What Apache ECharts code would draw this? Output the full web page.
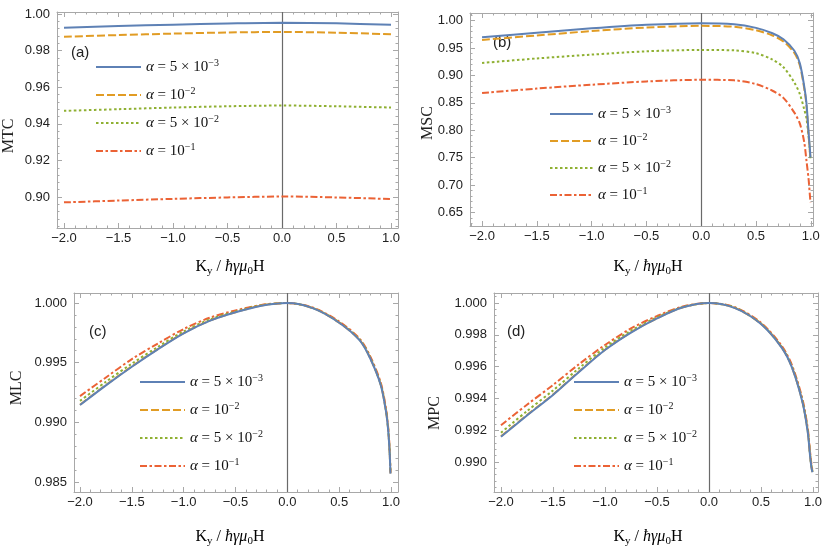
<!DOCTYPE html>
<html><head><meta charset="utf-8">
<script src="https://cdn.jsdelivr.net/npm/echarts@6/dist/echarts.min.js"></script>
<style>html,body{margin:0;padding:0;background:#fff}#c{width:830px;height:547px}</style>
</head><body><div id="c"></div>
<script>
// ---------- data ----------
const seriesNames = ['α = 5 × 10^-3', 'α = 10^-2', 'α = 5 × 10^-2', 'α = 10^-1'];
const xTicks = [-2, -1.5, -1, -0.5, 0, 0.5, 1];

// (a) MTC
const xA = [-2, -1.5, -1, -0.5, 0, 0.5, 1];
const mtcA1 = [0.9925, 0.9934, 0.9942, 0.9948, 0.9952, 0.9949, 0.9941];
const mtcA2 = [0.9876, 0.9885, 0.9893, 0.9899, 0.9902, 0.9898, 0.9889];
const mtcA3 = [0.9471, 0.9480, 0.9489, 0.9496, 0.9500, 0.9496, 0.9489];
const mtcA4 = [0.8971, 0.8981, 0.8990, 0.8998, 0.9003, 0.8998, 0.8989];
const mtcTicks = [0.90, 0.92, 0.94, 0.96, 0.98, 1.00];

// (b) MSC
const xB = [-2, -1.5, -1, -0.5, 0, 0.3, 0.5, 0.65, 0.75, 0.85, 0.9, 0.94, 0.96, 0.98, 0.99, 0.997];
const mscB1 = [0.9697, 0.9780, 0.9860, 0.9925, 0.9955, 0.9935, 0.9868, 0.9770, 0.9660, 0.9450, 0.9220, 0.8800, 0.8500, 0.7950, 0.7700, 0.7500];
const mscB2 = [0.9647, 0.9730, 0.9810, 0.9875, 0.9905, 0.9888, 0.9824, 0.9730, 0.9620, 0.9410, 0.9180, 0.8760, 0.8460, 0.7900, 0.7650, 0.7480];
const mscB3 = [0.9227, 0.9310, 0.9380, 0.9440, 0.9465, 0.9458, 0.9405, 0.9290, 0.9150, 0.8870, 0.8660, 0.8380, 0.8220, 0.7880, 0.7650, 0.7450];
const mscB4 = [0.8680, 0.8760, 0.8830, 0.8890, 0.8920, 0.8910, 0.8842, 0.8720, 0.8590, 0.8320, 0.8120, 0.7780, 0.7450, 0.7100, 0.6850, 0.6680];
const mscTicks = [0.65, 0.70, 0.75, 0.80, 0.85, 0.90, 0.95, 1.00];

// (c) MLC
const xC = [-2, -1.75, -1.5, -1.25, -1, -0.75, -0.5, -0.25, 0, 0.25, 0.5, 0.7, 0.8, 0.9, 0.95, 0.97, 0.985, 0.995];
const mlcC1 = [0.99145, 0.99310, 0.99466, 0.99612, 0.99746, 0.99850, 0.99922, 0.99978, 1.0, 0.99955, 0.99835, 0.99685, 0.99535, 0.99315, 0.99100, 0.98960, 0.98780, 0.98570];
const mlcC2 = [0.99148, 0.99313, 0.99469, 0.99614, 0.99748, 0.99852, 0.99923, 0.99979, 1.0, 0.99956, 0.99836, 0.99687, 0.99537, 0.99318, 0.99104, 0.98964, 0.98785, 0.98572];
const mlcC3 = [0.99180, 0.99340, 0.99492, 0.99632, 0.99762, 0.99862, 0.99929, 0.99981, 1.0, 0.99957, 0.99839, 0.99690, 0.99542, 0.99323, 0.99110, 0.98970, 0.98792, 0.98575];
const mlcC4 = [0.99220, 0.99376, 0.99530, 0.99660, 0.99782, 0.99876, 0.99938, 0.99984, 1.0, 0.99960, 0.99845, 0.99698, 0.99552, 0.99335, 0.99125, 0.98985, 0.98808, 0.98580];
const mlcTicks = [0.985, 0.990, 0.995, 1.000];

// (d) MPC
const xD = [-2, -1.75, -1.5, -1.25, -1, -0.75, -0.5, -0.25, 0, 0.25, 0.5, 0.7, 0.8, 0.9, 0.95, 0.97, 0.985, 0.995];
const mpcD1 = [0.99159, 0.99292, 0.99421, 0.99566, 0.99704, 0.99814, 0.99903, 0.99973, 1.0, 0.99968, 0.99868, 0.99718, 0.99590, 0.99372, 0.99185, 0.99050, 0.98965, 0.98935];
const mpcD2 = [0.99162, 0.99295, 0.99424, 0.99569, 0.99706, 0.99816, 0.99904, 0.99973, 1.0, 0.99969, 0.99869, 0.99720, 0.99592, 0.99375, 0.99188, 0.99053, 0.98968, 0.98937];
const mpcD3 = [0.99184, 0.99320, 0.99450, 0.99590, 0.99720, 0.99826, 0.99910, 0.99975, 1.0, 0.99970, 0.99871, 0.99723, 0.99596, 0.99380, 0.99194, 0.99060, 0.98974, 0.98940];
const mpcD4 = [0.99231, 0.99360, 0.99484, 0.99615, 0.99736, 0.99840, 0.99918, 0.99978, 1.0, 0.99973, 0.99876, 0.99730, 0.99605, 0.99392, 0.99208, 0.99075, 0.98985, 0.98945];
const mpcTicks = [0.990, 0.992, 0.994, 0.996, 0.998, 1.000];

// ---------- styles / layout ----------
const colors = ['#5E81B5', '#E19C24', '#8FB032', '#EB6235'];
const dashes = ['solid', [8, 3], [2.5, 2.5], [7, 2.5, 2.5, 2.5]];
const FRAME = '#a8a8a8';
const LABEL = '#222';
const SANS = 'Liberation Sans, Arial, sans-serif';
const SERIF = 'Liberation Serif, Times New Roman, serif';

const panels = [
  {l:57, t:12, w:341, h:216, xmin:-2.064, xmax:1.064, ymin:0.8831, ymax:1.0011, yTicks:mtcTicks, yDec:2, yMinor:0.004,
   x:xA, ys:[mtcA1, mtcA2, mtcA3, mtcA4], legend:{left:95, top:58, w:45, gap:10},
   tag:'(a)', tagPos:[71,53], title:'MTC', titlePos:[9,136], xTitlePos:[230,267]},
  {l:470, t:13, w:343, h:213, xmin:-2.11, xmax:1.02, ymin:0.625, ymax:1.014, yTicks:mscTicks, yDec:2, yMinor:0.01,
   x:xB, ys:[mscB1, mscB2, mscB3, mscB4], legend:{left:549, top:105, w:43, gap:9},
   tag:'(b)', tagPos:[493,43], title:'MSC', titlePos:[428,123], xTitlePos:[648,267]},
  {l:74, t:293, w:324, h:199, xmin:-2.058, xmax:1.0675, ymin:0.98416, ymax:1.00084, yTicks:mlcTicks, yDec:3, yMinor:0.001,
   x:xC, ys:[mlcC1, mlcC2, mlcC3, mlcC4], legend:{left:139, top:373, w:45, gap:10},
   tag:'(c)', tagPos:[89,332], title:'MLC', titlePos:[17,388], xTitlePos:[230,537]},
  {l:494, t:293, w:324, h:199, xmin:-2.067, xmax:1.048, ymin:0.98811, ymax:1.00063, yTicks:mpcTicks, yDec:3, yMinor:0.0004,
   x:xD, ys:[mpcD1, mpcD2, mpcD3, mpcD4], legend:{left:573, top:373, w:45, gap:10},
   tag:'(d)', tagPos:[507,332], title:'MPC', titlePos:[435,413], xTitlePos:[648,537]}
];

function r6(v){ return Math.round(v*1e7)/1e7; }
function minorVals(min, max, step, majors){
  const out = [];
  for (let k = Math.ceil(min/step - 1e-9); k*step <= max + 1e-12; k++) {
    const v = r6(k*step);
    if (v < min || v > max) continue;
    if (majors.some(m => Math.abs(m - v) < step/10)) continue;
    out.push(v);
  }
  return out;
}
function fmt(dec){ return v => (v < -1e-12 ? '\u2212' : '') + Math.abs(v).toFixed(dec); }

function axis(gi, pos, min, max, vals, len, line, labels, dec, margin){
  return {
    type:'value', gridIndex:gi, position:pos, min:min, max:max, scale:true,
    axisLine:{show:line, onZero:false, lineStyle:{color:FRAME, width:1}},
    axisTick:{show:true, inside:true, length:len, customValues:vals, lineStyle:{color:FRAME, width:1}},
    axisLabel:{show:labels, customValues:vals, formatter:fmt(dec), margin:margin,
      fontFamily:SANS, fontSize:13, color:LABEL},
    splitLine:{show:false}, minorTick:{show:false}, minorSplitLine:{show:false}
  };
}

const rich = {
  i:{fontFamily:SERIF, fontStyle:'italic', fontSize:15, lineHeight:18, color:'#111'},
  t:{fontFamily:SERIF, fontSize:15, lineHeight:18, color:'#111'},
  s:{fontFamily:SERIF, fontSize:10, lineHeight:11, verticalAlign:'top', color:'#111'}
};
const legendText = {
  [seriesNames[0]]:'{i|α}{t| = 5 × 10}{s|−3}',
  [seriesNames[1]]:'{i|α}{t| = 10}{s|−2}',
  [seriesNames[2]]:'{i|α}{t| = 5 × 10}{s|−2}',
  [seriesNames[3]]:'{i|α}{t| = 10}{s|−1}'
};

const grid = [], xAxis = [], yAxis = [], series = [], legend = [], graphic = [];
panels.forEach((p, gi) => {
  grid.push({left:p.l, top:p.t, width:p.w, height:p.h, containLabel:false});
  const xMin = minorVals(p.xmin, p.xmax, 0.1, xTicks);
  const yMin = minorVals(p.ymin, p.ymax, p.yMinor, p.yTicks);
  const xi = xAxis.length, yi = yAxis.length;
  xAxis.push(axis(gi, 'bottom', p.xmin, p.xmax, xTicks, 5, true, true, 1, 4));
  xAxis.push(axis(gi, 'top', p.xmin, p.xmax, xTicks, 5, true, false, 1, 4));
  xAxis.push(axis(gi, 'bottom', p.xmin, p.xmax, xMin, 2.5, false, false, 1, 4));
  xAxis.push(axis(gi, 'top', p.xmin, p.xmax, xMin, 2.5, false, false, 1, 4));
  yAxis.push(axis(gi, 'left', p.ymin, p.ymax, p.yTicks, 5, true, true, p.yDec, 7));
  yAxis.push(axis(gi, 'right', p.ymin, p.ymax, p.yTicks, 5, true, false, p.yDec, 7));
  yAxis.push(axis(gi, 'left', p.ymin, p.ymax, yMin, 2.5, false, false, p.yDec, 7));
  yAxis.push(axis(gi, 'right', p.ymin, p.ymax, yMin, 2.5, false, false, p.yDec, 7));

  p.ys.forEach((ys, si) => {
    const s = {
      type:'line', name:seriesNames[si], xAxisIndex:xi, yAxisIndex:yi,
      data:p.x.map((x, k) => [x, ys[k]]),
      showSymbol:false, symbol:'none', smooth:0.3,
      lineStyle:{color:colors[si], width:2, type:dashes[si], cap:'butt'},
      itemStyle:{color:colors[si]}, z:10 - si, animation:false
    };
    if (si === 0) {
      s.markLine = {silent:true, symbol:['none','none'], label:{show:false}, animation:false,
        lineStyle:{color:'#6a6a6a', width:1.2, type:'solid'}, emphasis:{disabled:true},
        data:[{xAxis:0}]};
    }
    series.push(s);
  });

  legend.push({
    orient:'vertical', left:p.legend.left, top:p.legend.top, itemWidth:p.legend.w, itemHeight:14,
    itemGap:p.legend.gap, selectedMode:false, data:seriesNames, padding:0,
    itemStyle:{color:'rgba(0,0,0,0)', borderColor:'rgba(0,0,0,0)', borderWidth:0, opacity:0},
    formatter:n => legendText[n], textStyle:{lineHeight:18, rich:rich}
  });

  graphic.push({type:'text', x:p.tagPos[0], y:p.tagPos[1],
    style:{text:p.tag, font:'15px ' + SANS, fill:'#222', textAlign:'left', textVerticalAlign:'middle'}});
  graphic.push({type:'text', x:p.titlePos[0], y:p.titlePos[1], rotation:Math.PI/2,
    style:{text:p.title, font:'16px ' + SERIF, fill:'#222', textAlign:'center', textVerticalAlign:'middle'}});
  graphic.push({type:'text', x:p.xTitlePos[0], y:p.xTitlePos[1],
    style:{text:'{m|K}{b|y}{m| / }{it|ħγμ}{b|0}{m|H}', textAlign:'center', textVerticalAlign:'middle',
      rich:{m:{fontFamily:SERIF, fontSize:16, lineHeight:20, color:'#222'},
            it:{fontFamily:SERIF, fontStyle:'italic', fontSize:16, lineHeight:20, color:'#222'},
            b:{fontFamily:SERIF, fontSize:11, lineHeight:12, verticalAlign:'bottom', color:'#222'}}}});
});

const chart = echarts.init(document.getElementById('c'), null, {renderer:'canvas'});
chart.setOption({
  animation:false, backgroundColor:'#fff',
  grid, xAxis, yAxis, series, legend, graphic
});
</script>
</body></html>
